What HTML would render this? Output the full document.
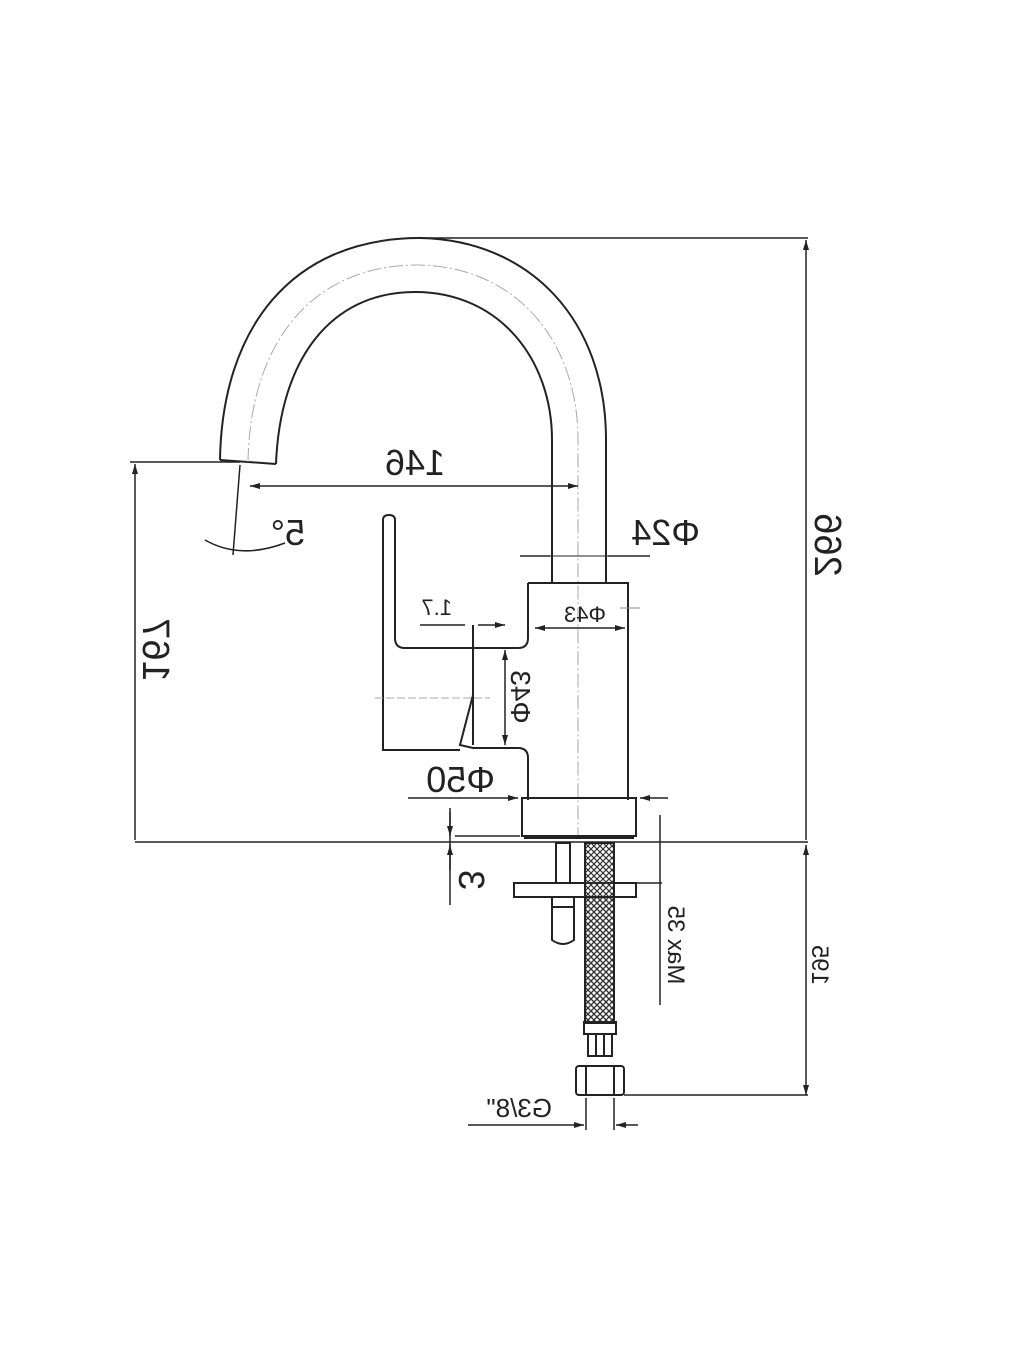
<!DOCTYPE html>
<html><head><meta charset="utf-8"><style>body{margin:0;background:#fff}svg{display:block}text{font-family:"Liberation Sans",sans-serif;fill:#222}</style></head><body>
<svg width="1024" height="1365" viewBox="0 0 1024 1365" xmlns="http://www.w3.org/2000/svg">
<defs>
<marker id="a" markerWidth="10" markerHeight="6" refX="10" refY="3" orient="auto-start-reverse" markerUnits="userSpaceOnUse"><path d="M0,0 L10,3 L0,6z" fill="#222"/></marker>
<pattern id="h" width="6" height="6" patternUnits="userSpaceOnUse"><path d="M0,0 L6,6 M6,0 L0,6" stroke="#333" stroke-width="1.2"/></pattern>
</defs>
<g stroke="#222" stroke-width="2" fill="none">
<path d="M220,460 C222,330 290,238 420,238 C530,240 606,320 606,440 L606,583"/>
<path d="M276,464 C280,360 330,292 415,292 C500,292 552,360 552,440 L552,583"/>
<path d="M220,460 L276,464"/>
<path d="M248,462 C250,345 310,265 418,265 C515,266 578,340 578,440 L578,835" stroke="#aaa" stroke-width="1" stroke-dasharray="14,3,2,3"/>
<path d="M420,238 L808,238" stroke-width="1.5"/>
<path d="M130,462 L240,462" stroke-width="1.5"/>
<path d="M806,240 L806,840" stroke-width="1.5" marker-start="url(#a)"/>
<path d="M135,464 L135,840" stroke-width="1.5" marker-start="url(#a)"/>
<path d="M250,486 L578,486" stroke-width="1.5" marker-start="url(#a)" marker-end="url(#a)"/>
<path d="M240,465 L233,555" stroke-width="1.5"/>
<path d="M205,540 Q240,560 285,543" stroke-width="1.5"/>
<path d="M520,556 L550,556 M608,556 L650,556" stroke-width="1.5"/>
<path d="M550,556 L608,556" stroke-width="1"/>
<path d="M528,583 L628,583 L628,800 M528,583 L528,638 Q528,648 518,648 L405,648 Q395,648 395,638 L395,520 Q395,515 389,515 Q383,515 383,520 L383,750 L460,750"/>
<path d="M473,625 L473,745 M473,695 L460,745 L473,748 L518,748 Q528,748 528,758 L528,800"/>
<path d="M535,628 L625,628" stroke-width="1.5" marker-start="url(#a)" marker-end="url(#a)"/>
<path d="M505,650 L505,745" stroke-width="1.5" marker-start="url(#a)" marker-end="url(#a)"/>
<path d="M420,625 L465,625 M478,625 L505,625" stroke-width="1.5" marker-end="url(#a)"/>
<path d="M375,698 L490,698" stroke="#aaa" stroke-width="1" stroke-dasharray="8,3"/>
<path d="M620,608 L640,608" stroke="#888" stroke-width="1"/>
<path d="M522,798 L636,798 L636,836 L522,836 Z"/>
<path d="M524,838 L634,838"/>
<path d="M408,798 L518,798" stroke-width="1.5" marker-end="url(#a)"/>
<path d="M668,798 L640,798" stroke-width="1.5" marker-end="url(#a)"/>
<path d="M450,808 L450,905" stroke-width="1.5"/>
<path d="M450,812 L450,836" stroke-width="1.5" marker-end="url(#a)"/>
<path d="M450,870 L450,845" stroke-width="1.5" marker-end="url(#a)"/>
<path d="M455,836 L520,836" stroke-width="1.5"/>
<path d="M135,842 L808,842" stroke-width="1.5"/>
<rect x="556" y="843" width="14" height="40"/>
<rect x="514" y="883" width="122" height="14"/>
<path d="M552,897 L552,940 Q563,948 574,940 L574,897 M552,907 L574,907"/>
<rect x="585" y="843" width="29" height="180" fill="url(#h)"/>
<rect x="585" y="897" width="29" height="126" fill="url(#h)"/>
<rect x="584" y="1022" width="32" height="12"/>
<rect x="588" y="1034" width="24" height="22"/>
<path d="M596,1034 L596,1056 M604,1034 L604,1056"/>
<rect x="576" y="1066" width="48" height="29" rx="3"/>
<path d="M586,1066 L586,1095 M614,1066 L614,1095"/>
<path d="M636,883 L662,883" stroke-width="1.5"/>
<path d="M660,815 L660,1005" stroke-width="1.5"/>
<path d="M806,845 L806,1095" stroke-width="1.5" marker-start="url(#a)" marker-end="url(#a)"/>
<path d="M624,1095 L808,1095" stroke-width="1.5"/>
<path d="M586,1098 L586,1130 M614,1098 L614,1130" stroke-width="1.5"/>
<path d="M468,1125 L584,1125" stroke-width="1.5" marker-end="url(#a)"/>
<path d="M638,1125 L616,1125" stroke-width="1.5" marker-end="url(#a)"/>
</g>
<g font-size="36">
<text transform="translate(445,475) scale(-1,1)">146</text>
<text transform="translate(305,545) scale(-1,1)">5°</text>
<text transform="translate(700,545) scale(-1,1)">Φ24</text>
</g>
<g font-size="22">
<text transform="translate(606,622) scale(-1,1)">Φ43</text>
<text transform="translate(452,615) scale(-1,1)">1.7</text>
</g>
<text font-size="36" transform="translate(495,792) scale(-1,1)">Φ50</text>
<g text-anchor="middle">
<text font-size="28" transform="translate(511,697) scale(-1,1) rotate(-90)">Φ43</text>
<text font-size="38" transform="translate(815,545) scale(-1,1) rotate(-90)">266</text>
<text font-size="38" transform="translate(143,650) scale(-1,1) rotate(-90)">167</text>
<text font-size="36" transform="translate(459,880) scale(-1,1) rotate(-90)">3</text>
<text font-size="24" transform="translate(668,945) scale(-1,1) rotate(-90)">Max 35</text>
<text font-size="24" transform="translate(812,965) scale(-1,1) rotate(-90)">195</text>
</g>
<text font-size="26" transform="translate(552,1117) scale(-1,1)">G3/8"</text>
</svg>
</body></html>
